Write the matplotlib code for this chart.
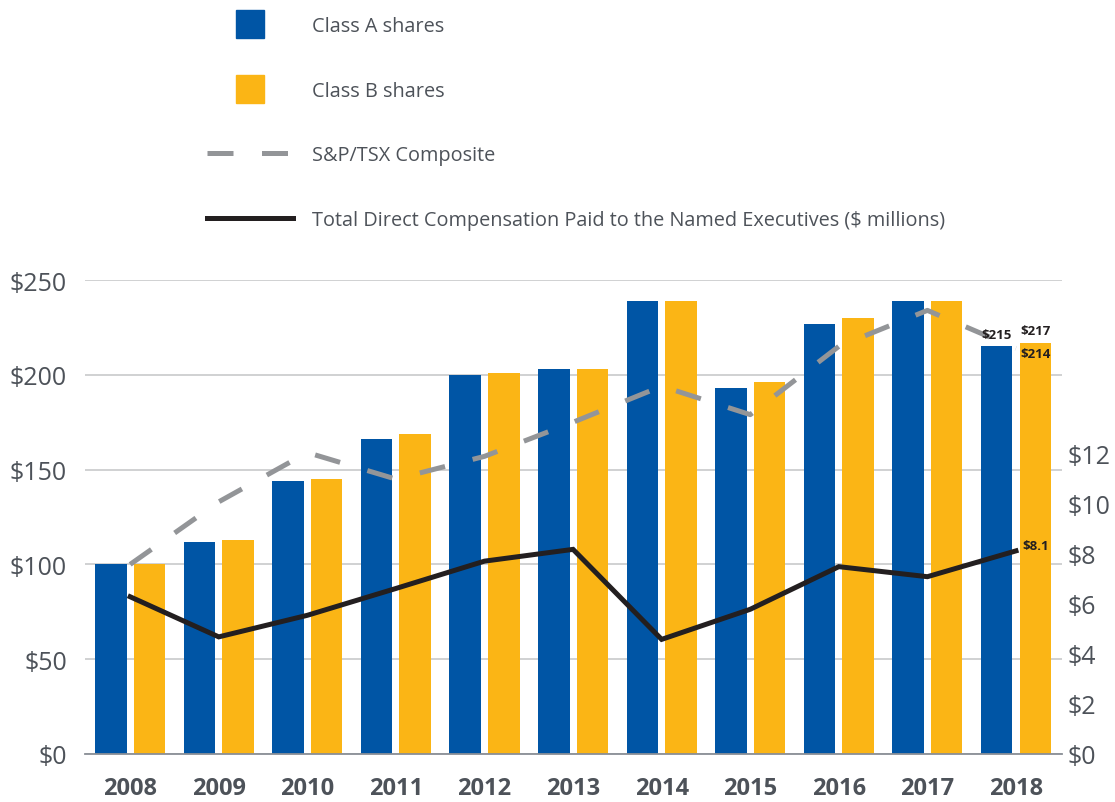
import matplotlib
matplotlib.use("Agg")
import matplotlib.pyplot as plt
import numpy as np
from matplotlib.lines import Line2D

plt.rcParams['font.family'] = ['Open Sans', 'DejaVu Sans']

years = ['2008', '2009', '2010', '2011', '2012', '2013', '2014', '2015', '2016', '2017', '2018']
class_a = [100, 112, 144, 166, 200, 203, 239, 193, 227, 239, 215]
class_b = [100, 113, 145, 169, 201, 203, 239, 196, 230, 239, 217]
sptsx = [100, 133, 159, 145, 157, 175, 194, 179, 215, 234, 214]
comp = [6.27, 4.67, 5.53, 6.6, 7.69, 8.16, 4.57, 5.77, 7.47, 7.07, 8.1]
left_ticks = [0, 50, 100, 150, 200, 250]
right_ticks = [0, 2, 4, 6, 8, 10, 12]

blue = '#0055A5'
gold = '#FBB515'
grey = '#939598'
dark = '#231F20'
tick_col = '#4D5259'

fig = plt.figure(figsize=(11.15, 8.03), dpi=100)
ax = fig.add_axes([0.0762, 0.0598, 0.8763, 0.5902])

x = np.arange(len(years))
w = 0.356
off = 0.218
ax.bar(x - off, class_a, w, color=blue, zorder=2)
ax.bar(x + off, class_b, w, color=gold, zorder=2)
ax.plot(x, sptsx, color=grey, lw=3.6, dashes=(5.2, 5.7), zorder=3)

ax.set_xlim(-0.51, 10.52)
ax.set_ylim(0, 250)
ax.set_yticks(left_ticks)
ax.set_yticklabels([f'${v}' for v in left_ticks])
ax.set_xticks(x)
ax.set_xticklabels(years, fontweight='bold')
ax.tick_params(axis='y', length=0, pad=13, labelsize=18, labelcolor=tick_col)
ax.tick_params(axis='x', length=0, pad=16, labelsize=17, labelcolor=tick_col)
ax.grid(axis='y', color='#C8C9CB', lw=1.2, zorder=0)
ax.set_axisbelow(True)
for s in ['left', 'right', 'top']:
    ax.spines[s].set_visible(False)
ax.spines['bottom'].set_color('#8A8F96')
ax.spines['bottom'].set_linewidth(1.3)

ax2 = ax.twinx()
ax2.plot(x, comp, color=dark, lw=3.6, solid_joinstyle='miter', zorder=4)
ax2.set_ylim(0, 18.9)
ax2.set_yticks(right_ticks)
ax2.set_yticklabels([f'${v}' for v in right_ticks])
ax2.tick_params(axis='y', length=0, pad=4, labelsize=18, labelcolor=tick_col)
for s in ['left', 'right', 'top', 'bottom']:
    ax2.spines[s].set_visible(False)

# value labels for 2018
i = len(years) - 1
ax.text(x[i] - off, class_a[i] + 3, f'${class_a[i]}', ha='center', va='bottom',
        fontsize=9.5, fontweight='bold', color=dark, zorder=5)
ax.text(x[i] + off, class_b[i] + 3, f'${class_b[i]}', ha='center', va='bottom',
        fontsize=9.5, fontweight='bold', color=dark, zorder=5)
ax.text(x[i] + off, sptsx[i] - 3, f'${sptsx[i]}', ha='center', va='center',
        fontsize=9.5, fontweight='bold', color=dark, zorder=5)
ax2.text(x[i] + 0.07, comp[i] - 0.05, f'${comp[i]}', ha='left', va='bottom',
         fontsize=9.5, fontweight='bold', color=dark, zorder=5)

handles = [
    Line2D([], [], marker='s', markersize=20, linestyle='none', color=blue),
    Line2D([], [], marker='s', markersize=20, linestyle='none', color=gold),
    Line2D([], [], color=grey, lw=3.6, dashes=(5.2, 5.7)),
    Line2D([], [], color=dark, lw=3.6),
]
labels = ['Class A shares', 'Class B shares', 'S&P/TSX Composite',
          'Total Direct Compensation Paid to the Named Executives ($ millions)']
fig.legend(handles, labels, loc='upper left', bbox_to_anchor=(0.1704, 1.0),
           frameon=False, fontsize=14.3, handlelength=4.35, handletextpad=0.92,
           labelspacing=2.25, labelcolor='#4D5259', borderaxespad=0.45)

fig.savefig('out.png', dpi=100)
